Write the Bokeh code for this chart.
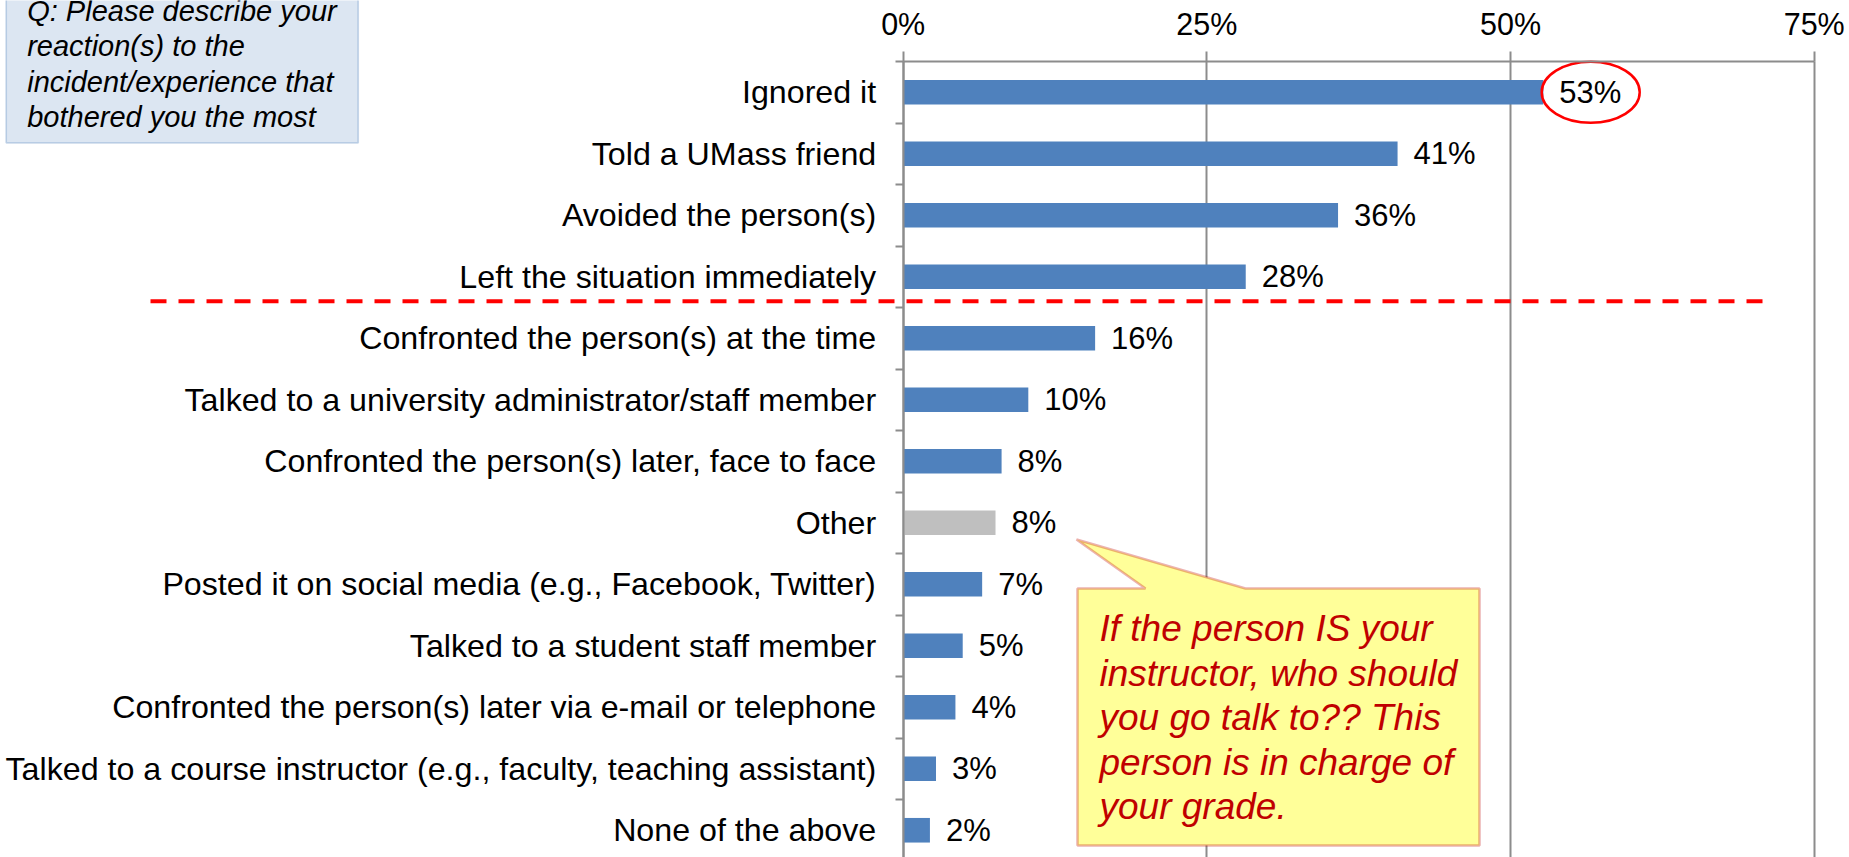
from bokeh.plotting import figure
from bokeh.models import (Range1d, FixedTicker, PrintfTickFormatter, ColumnDataSource,
                          Label, Arrow, PolyAnnotation)
from bokeh.embed import file_html
from bokeh.resources import INLINE
from bokeh.core.properties import value

# ---------------- data ----------------
categories = [
    "Ignored it",
    "Told a UMass friend",
    "Avoided the person(s)",
    "Left the situation immediately",
    "Confronted the person(s) at the time",
    "Talked to a university administrator/staff member",
    "Confronted the person(s) later, face to face",
    "Other",
    "Posted it on social media (e.g., Facebook, Twitter)",
    "Talked to a student staff member",
    "Confronted the person(s) later via e-mail or telephone",
    "Talked to a course instructor (e.g., faculty, teaching assistant)",
    "None of the above",
]
percent = [52.7, 40.7, 35.8, 28.2, 15.8, 10.3, 8.1, 7.6, 6.5, 4.9, 4.3, 2.7, 2.2]
percent_labels = ["53%", "41%", "36%", "28%", "16%", "10%", "8%", "8%", "7%", "5%", "4%", "3%", "2%"]
x_ticks = [0, 25, 50, 75]
highlight_category = "Other"
question_lines = ["Q: Please describe your", "reaction(s) to the",
                  "incident/experience that", "bothered you the most"]
callout_lines = ["If the person IS your", "instructor, who should",
                 "you go talk to?? This", "person is in charge of", "your grade."]

# ---------------- layout / style ----------------
W, H = 1849, 857
X0_PX, X75_PX = 902.7, 1813.7     # screen position of 0% and 75%
Y0_PX, BAND = 61.0, 61.5          # screen position of top of first band, band height
X_MAX = 75
PXU = (X75_PX - X0_PX) / X_MAX

BLUE = "#4F81BD"
GREY_BAR = "#BFBFBF"
AXIS_GREY = "#8C8C8C"
FONT = "Liberation Sans"


def sx(px):
    """screen px -> data x"""
    return (px - X0_PX) / PXU


def sy(px):
    """screen px -> data y"""
    return (px - Y0_PX) / BAND


n = len(categories)
ypos = [i + 0.5 for i in range(n)]
colors = [GREY_BAR if c == highlight_category else BLUE for c in categories]

src = ColumnDataSource(dict(y=ypos, v=percent, lab=percent_labels, color=colors))

p = figure(width=W, height=H, output_backend="svg", toolbar_location=None,
           x_axis_location="above",
           x_range=Range1d(sx(0), sx(W)), y_range=Range1d(sy(H), sy(0)),
           min_border=0)
p.outline_line_color = None
p.background_fill_color = "white"
p.border_fill_color = "white"

# x axis (top, at the top of the first band)
xa = p.xaxis[0]
xa.fixed_location = 0
xa.bounds = (0, X_MAX)
xa.ticker = FixedTicker(ticks=x_ticks)
xa.formatter = PrintfTickFormatter(format="%d%%")
xa.axis_line_color = AXIS_GREY
xa.axis_line_width = 2
xa.major_tick_line_color = AXIS_GREY
xa.major_tick_line_width = 2
xa.major_tick_out = 10
xa.major_tick_in = 0
xa.minor_tick_line_color = None
xa.major_label_standoff = 11
xa.major_label_text_font = FONT
xa.major_label_text_font_size = "30.5px"
xa.major_label_text_color = "black"

# y axis (categories) at 0%
ya = p.yaxis[0]
ya.fixed_location = 0
ya.bounds = (0, n)
ya.ticker = FixedTicker(ticks=ypos, minor_ticks=list(range(n + 1)))
ya.major_label_overrides = {y: c for y, c in zip(ypos, categories)}
ya.axis_line_color = AXIS_GREY
ya.axis_line_width = 2
ya.major_tick_line_color = None
ya.major_tick_out = 0
ya.major_tick_in = 0
ya.minor_tick_line_color = AXIS_GREY
ya.minor_tick_line_width = 2
ya.minor_tick_out = 8
ya.minor_tick_in = 0
ya.major_label_standoff = 19
ya.major_label_text_font = FONT
ya.major_label_text_font_size = "32.2px"
ya.major_label_text_color = "black"

p.ygrid.visible = False
p.xgrid.ticker = FixedTicker(ticks=x_ticks)
p.xgrid.bounds = (0, X_MAX)
p.xgrid.cross_bounds = (0, n)
p.xgrid.grid_line_color = AXIS_GREY
p.xgrid.grid_line_width = 2

# bars
p.hbar(y="y", left=0, right="v", height=0.4, fill_color="color", line_color=None, source=src)
p.text(x="v", y="y", text="lab", x_offset=16, text_baseline="middle", text_align="left",
       text_font=value(FONT), text_font_size="31px", text_color="black", source=src)

# red ellipse around top value label
p.ellipse(x=[percent[0] + 3.9], y=[ypos[0]], width=98, height=61,
          width_units="screen", height_units="screen",
          fill_color=None, line_color="#FF0000", line_width=2.5)

# dashed separator after the 4th category
p.add_layout(Arrow(end=None, x_start=sx(150), y_start=4 - 0.1, x_end=sx(1762), y_end=4 - 0.1,
                   line_color="#FF0000", line_width=4, line_dash="16 12"))

# question box (top-left)
p.add_layout(PolyAnnotation(xs=[sx(5.7), sx(357.7), sx(357.7), sx(5.7)],
                            ys=[sy(-20), sy(-20), sy(142.3), sy(142.3)],
                            fill_color="#DCE6F2", fill_alpha=1,
                            line_color=BLUE, line_width=1.7))
for i, t in enumerate(question_lines):
    p.add_layout(Label(x=sx(26.7), y=sy(10 + 35.5 * i), text=t, text_font=FONT,
                       text_font_style="italic", text_font_size="29px",
                       text_color="black", text_baseline="alphabetic"))

# callout box
p.add_layout(PolyAnnotation(
    xs=[sx(1077), sx(1145), sx(1076), sx(1245), sx(1479), sx(1479), sx(1077)],
    ys=[sy(588), sy(588), sy(539), sy(588), sy(588), sy(845), sy(845)],
    fill_color="#FFFF99", fill_alpha=1, line_color="#C00000", line_width=2.5))
for i, t in enumerate(callout_lines):
    p.add_layout(Label(x=sx(1099), y=sy(628 + 44.5 * i), text=t, text_font=FONT,
                       text_font_style="italic", text_font_size="37px",
                       text_color="#C00000", text_baseline="alphabetic"))

open("out.html", "w").write(file_html(p, INLINE))
